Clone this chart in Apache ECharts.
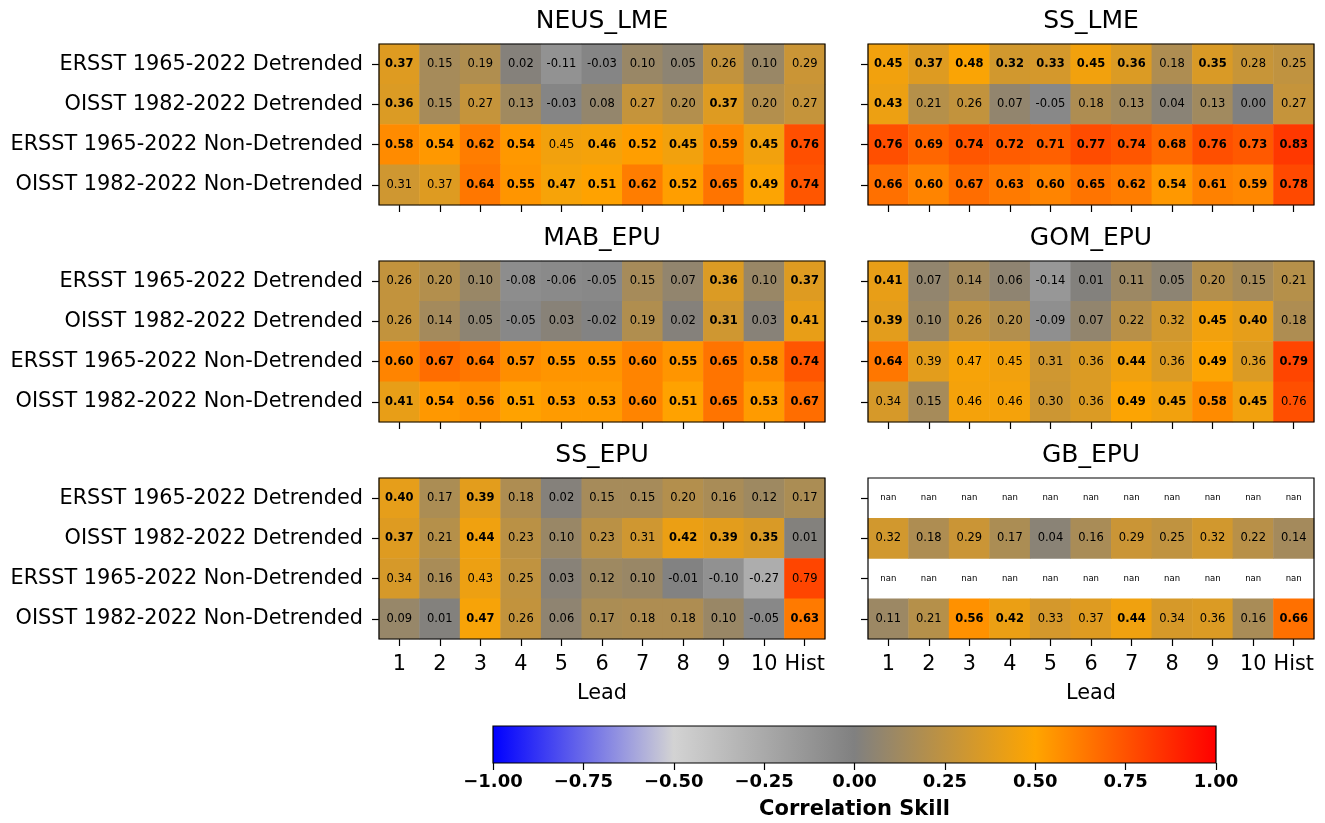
<!DOCTYPE html>
<html>
<head>
<meta charset="utf-8">
<title>Correlation Skill by Region</title>
<script src="https://cdn.jsdelivr.net/npm/echarts@6/dist/echarts.min.js"></script>
<style>
  html, body { margin: 0; padding: 0; background: #fff; }
  #chart { width: 1325px; height: 823px; }
</style>
</head>
<body>
<div id="chart"></div>
<script>
// Lead months along x, SST products along y
const leads = ['1', '2', '3', '4', '5', '6', '7', '8', '9', '10', 'Hist'];
const products = [
  'ERSST 1965-2022 Detrended',
  'OISST 1982-2022 Detrended',
  'ERSST 1965-2022 Non-Detrended',
  'OISST 1982-2022 Non-Detrended'
];
const regions = ['NEUS_LME', 'SS_LME', 'MAB_EPU', 'GOM_EPU', 'SS_EPU', 'GB_EPU'];

// Correlation skill, one row per product (null = nan)
const neusLme = [
  [0.37, 0.15, 0.19, 0.02, -0.11, -0.03, 0.10, 0.05, 0.26, 0.10, 0.29],
  [0.36, 0.15, 0.27, 0.13, -0.03, 0.08, 0.27, 0.20, 0.37, 0.20, 0.27],
  [0.58, 0.54, 0.62, 0.54, 0.45, 0.46, 0.52, 0.45, 0.59, 0.45, 0.76],
  [0.31, 0.37, 0.64, 0.55, 0.47, 0.51, 0.62, 0.52, 0.65, 0.49, 0.74]
];
const ssLme = [
  [0.45, 0.37, 0.48, 0.32, 0.33, 0.45, 0.36, 0.18, 0.35, 0.28, 0.25],
  [0.43, 0.21, 0.26, 0.07, -0.05, 0.18, 0.13, 0.04, 0.13, 0.00, 0.27],
  [0.76, 0.69, 0.74, 0.72, 0.71, 0.77, 0.74, 0.68, 0.76, 0.73, 0.83],
  [0.66, 0.60, 0.67, 0.63, 0.60, 0.65, 0.62, 0.54, 0.61, 0.59, 0.78]
];
const mabEpu = [
  [0.26, 0.20, 0.10, -0.08, -0.06, -0.05, 0.15, 0.07, 0.36, 0.10, 0.37],
  [0.26, 0.14, 0.05, -0.05, 0.03, -0.02, 0.19, 0.02, 0.31, 0.03, 0.41],
  [0.60, 0.67, 0.64, 0.57, 0.55, 0.55, 0.60, 0.55, 0.65, 0.58, 0.74],
  [0.41, 0.54, 0.56, 0.51, 0.53, 0.53, 0.60, 0.51, 0.65, 0.53, 0.67]
];
const gomEpu = [
  [0.41, 0.07, 0.14, 0.06, -0.14, 0.01, 0.11, 0.05, 0.20, 0.15, 0.21],
  [0.39, 0.10, 0.26, 0.20, -0.09, 0.07, 0.22, 0.32, 0.45, 0.40, 0.18],
  [0.64, 0.39, 0.47, 0.45, 0.31, 0.36, 0.44, 0.36, 0.49, 0.36, 0.79],
  [0.34, 0.15, 0.46, 0.46, 0.30, 0.36, 0.49, 0.45, 0.58, 0.45, 0.76]
];
const ssEpu = [
  [0.40, 0.17, 0.39, 0.18, 0.02, 0.15, 0.15, 0.20, 0.16, 0.12, 0.17],
  [0.37, 0.21, 0.44, 0.23, 0.10, 0.23, 0.31, 0.42, 0.39, 0.35, 0.01],
  [0.34, 0.16, 0.43, 0.25, 0.03, 0.12, 0.10, -0.01, -0.10, -0.27, 0.79],
  [0.09, 0.01, 0.47, 0.26, 0.06, 0.17, 0.18, 0.18, 0.10, -0.05, 0.63]
];
const gbEpu = [
  [null, null, null, null, null, null, null, null, null, null, null],
  [0.32, 0.18, 0.29, 0.17, 0.04, 0.16, 0.29, 0.25, 0.32, 0.22, 0.14],
  [null, null, null, null, null, null, null, null, null, null, null],
  [0.11, 0.21, 0.56, 0.42, 0.33, 0.37, 0.44, 0.34, 0.36, 0.16, 0.66]
];

// Significance flags (1 = significant, printed in bold)
const neusLmeSig = [
  [1, 0, 0, 0, 0, 0, 0, 0, 0, 0, 0],
  [1, 0, 0, 0, 0, 0, 0, 0, 1, 0, 0],
  [1, 1, 1, 1, 0, 1, 1, 1, 1, 1, 1],
  [0, 0, 1, 1, 1, 1, 1, 1, 1, 1, 1]
];
const ssLmeSig = [
  [1, 1, 1, 1, 1, 1, 1, 0, 1, 0, 0],
  [1, 0, 0, 0, 0, 0, 0, 0, 0, 0, 0],
  [1, 1, 1, 1, 1, 1, 1, 1, 1, 1, 1],
  [1, 1, 1, 1, 1, 1, 1, 1, 1, 1, 1]
];
const mabEpuSig = [
  [0, 0, 0, 0, 0, 0, 0, 0, 1, 0, 1],
  [0, 0, 0, 0, 0, 0, 0, 0, 1, 0, 1],
  [1, 1, 1, 1, 1, 1, 1, 1, 1, 1, 1],
  [1, 1, 1, 1, 1, 1, 1, 1, 1, 1, 1]
];
const gomEpuSig = [
  [1, 0, 0, 0, 0, 0, 0, 0, 0, 0, 0],
  [1, 0, 0, 0, 0, 0, 0, 0, 1, 1, 0],
  [1, 0, 0, 0, 0, 0, 1, 0, 1, 0, 1],
  [0, 0, 0, 0, 0, 0, 1, 1, 1, 1, 0]
];
const ssEpuSig = [
  [1, 0, 1, 0, 0, 0, 0, 0, 0, 0, 0],
  [1, 0, 1, 0, 0, 0, 0, 1, 1, 1, 0],
  [0, 0, 0, 0, 0, 0, 0, 0, 0, 0, 0],
  [0, 0, 1, 0, 0, 0, 0, 0, 0, 0, 1]
];
const gbEpuSig = [
  [0, 0, 0, 0, 0, 0, 0, 0, 0, 0, 0],
  [0, 0, 0, 0, 0, 0, 0, 0, 0, 0, 0],
  [0, 0, 0, 0, 0, 0, 0, 0, 0, 0, 0],
  [0, 0, 1, 1, 0, 0, 1, 0, 0, 0, 1]
];

// Colour bar ticks and the diverging colour map (blue - lightgray - gray - orange - red)
const cbarTicks = [-1, -0.75, -0.5, -0.25, 0, 0.25, 0.5, 0.75, 1];
const cmapColors = ['#0000ff', '#d3d3d3', '#808080', '#ffa500', '#ff0000'];

const skill = [neusLme, ssLme, mabEpu, gomEpu, ssEpu, gbEpu];
const sig = [neusLmeSig, ssLmeSig, mabEpuSig, gomEpuSig, ssEpuSig, gbEpuSig];

const FONT = 'DejaVu Sans';
const colLeft = [379, 868];
const rowTop = [44, 261, 478];
const panelW = 446;
const panelH = 161;

const fmt = v => v.toFixed(2);

const grids = [], xAxes = [], yAxes = [], series = [], titles = [];

regions.forEach((name, i) => {
  const col = i % 2, row = Math.floor(i / 2);
  const left = colLeft[col], top = rowTop[row];
  const bottomRow = row === 2, leftCol = col === 0;

  grids.push({
    left: left, top: top, width: panelW, height: panelH,
    show: true, borderColor: '#000', borderWidth: 1.2, z: 10,
    backgroundColor: 'transparent'
  });

  titles.push({
    text: name, left: left + panelW / 2, top: top - 35, textAlign: 'center',
    padding: 0,
    textStyle: { fontFamily: FONT, fontSize: 25, fontWeight: 'normal', color: '#000' }
  });

  xAxes.push({
    gridIndex: i, type: 'category', data: leads, position: 'bottom',
    axisLine: { show: false },
    axisTick: { show: true, alignWithLabel: true, interval: 0, length: 7, lineStyle: { color: '#000', width: 1.2 } },
    axisLabel: { show: bottomRow, interval: 0, fontFamily: FONT, fontSize: 20.8, color: '#000', margin: 15 },
    splitLine: { show: false },
    name: bottomRow ? 'Lead' : '', nameLocation: 'middle', nameGap: 44,
    nameTextStyle: { fontFamily: FONT, fontSize: 20.8, color: '#000' }
  });

  yAxes.push({
    gridIndex: i, type: 'category', data: products, inverse: true,
    axisLine: { show: false },
    axisTick: { show: true, alignWithLabel: true, interval: 0, length: 7, lineStyle: { color: '#000', width: 1.2 } },
    axisLabel: { show: leftCol, interval: 0, fontFamily: FONT, fontSize: 20.8, color: '#000', margin: 16 },
    splitLine: { show: false }
  });

  const cells = [], nans = [];
  skill[i].forEach((rowVals, r) => {
    rowVals.forEach((v, c) => {
      if (v === null) {
        nans.push([c, r]);
      } else {
        cells.push({
          value: [c, r, v],
          label: { fontWeight: sig[i][r][c] ? 'bold' : 'normal' }
        });
      }
    });
  });

  series.push({
    type: 'heatmap', name: name, xAxisIndex: i, yAxisIndex: i,
    data: cells,
    label: {
      show: true, fontFamily: FONT, fontSize: 11.5, color: '#000',
      formatter: p => fmt(p.value[2])
    },
    emphasis: { disabled: true },
    itemStyle: { borderWidth: 0 }
  });

  if (nans.length) {
    series.push({
      type: 'custom', name: name + ' nan', xAxisIndex: i, yAxisIndex: i,
      data: nans,
      renderItem: (params, api) => {
        const p = api.coord([api.value(0), api.value(1)]);
        return {
          type: 'text', x: p[0], y: p[1],
          style: {
            text: 'nan', fontFamily: FONT, fontSize: 8.5, fill: '#000',
            align: 'center', verticalAlign: 'middle'
          }
        };
      }
    });
  }
});

// Colour bar panel
const cbIndex = regions.length;
grids.push({
  left: 493, top: 726, width: 723, height: 37,
  show: true, borderColor: '#000', borderWidth: 1.2, z: 10, backgroundColor: 'transparent'
});
xAxes.push({
  gridIndex: cbIndex, type: 'value', min: cbarTicks[0], max: cbarTicks[cbarTicks.length - 1],
  interval: cbarTicks[1] - cbarTicks[0],
  axisLine: { show: false },
  axisTick: { show: true, length: 7, lineStyle: { color: '#000', width: 1.2 } },
  axisLabel: {
    fontFamily: FONT, fontSize: 18, fontWeight: 'bold', color: '#000', margin: 10,
    formatter: v => (v < 0 ? '\u2212' : '') + Math.abs(v).toFixed(2)
  },
  splitLine: { show: false },
  name: 'Correlation Skill', nameLocation: 'middle', nameGap: 36,
  nameTextStyle: { fontFamily: FONT, fontSize: 21, fontWeight: 'bold', color: '#000' }
});
yAxes.push({ gridIndex: cbIndex, type: 'value', min: 0, max: 1, show: false });
series.push({
  type: 'custom', name: 'colorbar', xAxisIndex: cbIndex, yAxisIndex: cbIndex,
  data: [[cbarTicks[0], cbarTicks[cbarTicks.length - 1]]],
  renderItem: (params, api) => {
    const a = api.coord([api.value(0), 0]);
    const b = api.coord([api.value(1), 1]);
    return {
      type: 'rect',
      shape: { x: a[0], y: b[1], width: b[0] - a[0], height: a[1] - b[1] },
      style: {
        fill: new echarts.graphic.LinearGradient(0, 0, 1, 0,
          cmapColors.map((c, k) => ({ offset: k / (cmapColors.length - 1), color: c })))
      }
    };
  }
});

const heatmapIdx = series.map((s, k) => s.type === 'heatmap' ? k : -1).filter(k => k >= 0);

const chart = echarts.init(document.getElementById('chart'), null, { renderer: 'canvas' });
chart.setOption({
  animation: false,
  backgroundColor: '#fff',
  title: titles,
  grid: grids,
  xAxis: xAxes,
  yAxis: yAxes,
  visualMap: {
    type: 'continuous', show: false, min: -1, max: 1,
    seriesIndex: heatmapIdx,
    inRange: { color: cmapColors }
  },
  series: series
});
</script>
</body>
</html>
